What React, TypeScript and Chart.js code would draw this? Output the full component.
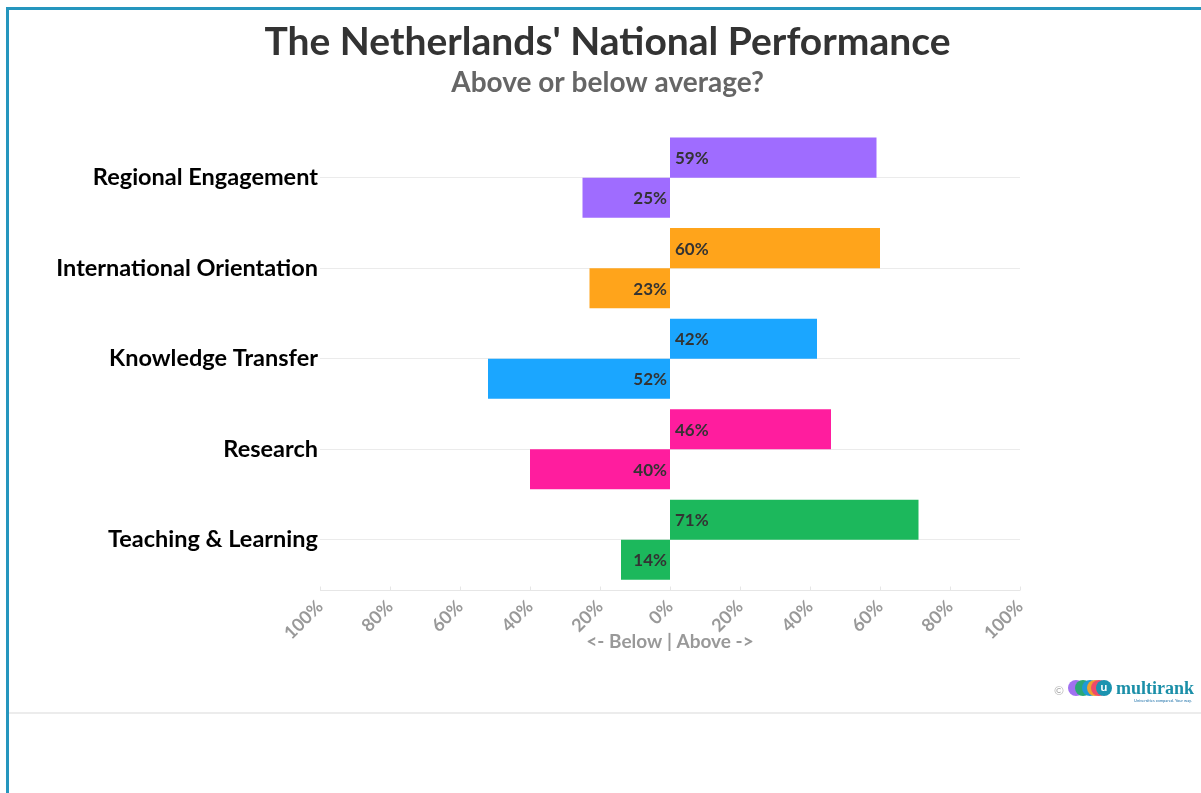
import React, { useEffect, useRef } from 'react';
import { Chart, registerables } from 'chart.js';

Chart.register(...registerables);

const categories = [
  'Regional Engagement',
  'International Orientation',
  'Knowledge Transfer',
  'Research',
  'Teaching & Learning',
];
const aboveValues = [59, 60, 42, 46, 71];
const belowValues = [25, 23, 52, 40, 14];
const categoryColors = ['#9f6cff', '#ffa41b', '#1ba6ff', '#ff1d9e', '#1cb85c'];
const xTickValues = [-100, -80, -60, -40, -20, 0, 20, 40, 60, 80, 100];

const FONT = 'Lato, "Open Sans", sans-serif';

const customPlugin = {
  id: 'customDecor',
  afterDatasetsDraw(chart: any) {
    const ctx = chart.ctx;
    chart.data.datasets.forEach((ds: any, di: number) => {
      const meta = chart.getDatasetMeta(di);
      meta.data.forEach((bar: any, i: number) => {
        const v = ds.data[i];
        ctx.save();
        ctx.font = `bold 17px ${FONT}`;
        ctx.fillStyle = '#333333';
        ctx.textBaseline = 'middle';
        if (v >= 0) {
          ctx.textAlign = 'left';
          ctx.fillText(`${Math.abs(v)}%`, bar.base + 5, bar.y + 1);
        } else {
          ctx.textAlign = 'right';
          ctx.fillText(`${Math.abs(v)}%`, bar.base - 3, bar.y + 1);
        }
        ctx.restore();
      });
    });
  },
  afterDraw(chart: any) {
    const ctx = chart.ctx;
    const xs = chart.scales.x;
    const ay = chart.chartArea.bottom + 5.5;
    ctx.save();
    ctx.strokeStyle = '#e6e6e6';
    ctx.lineWidth = 1;
    ctx.beginPath();
    ctx.moveTo(xs.left, ay);
    ctx.lineTo(xs.right, ay);
    xs.ticks.forEach((t: any) => {
      const px = Math.round(xs.getPixelForValue(t.value)) + 0.5;
      ctx.moveTo(px, ay);
      ctx.lineTo(px, ay - 4);
    });
    ctx.stroke();
    ctx.restore();

    // logo
    ctx.save();
    ctx.fillStyle = '#b0b0b0';
    ctx.font = `12px ${FONT}`;
    ctx.textBaseline = 'middle';
    ctx.fillText('©', 1054, 691);
    const circles = [
      [1076, '#a070f0'],
      [1083, '#2aa876'],
      [1090, '#1e9ad6'],
      [1095, '#f0a030'],
      [1099, '#ee4a6a'],
      [1104, '#1b93b0'],
    ];
    circles.forEach(([cx, col]: any) => {
      ctx.beginPath();
      ctx.fillStyle = col;
      ctx.arc(cx, 688, 8, 0, Math.PI * 2);
      ctx.fill();
    });
    ctx.fillStyle = '#ffffff';
    ctx.font = `bold 12px ${FONT}`;
    ctx.textAlign = 'center';
    ctx.fillText('u', 1104, 687);
    ctx.textAlign = 'left';
    ctx.fillStyle = '#1b8fa8';
    ctx.font = `bold 18px "Liberation Serif", serif`;
    ctx.textBaseline = 'alphabetic';
    ctx.fillText('multirank', 1116, 694);
    ctx.font = `4px ${FONT}`;
    ctx.fillStyle = '#1b6fa8';
    ctx.fillText('Universities compared. Your way.', 1134, 702);
    ctx.restore();
  },
};

export default function App() {
  const canvasRef = useRef<HTMLCanvasElement | null>(null);

  useEffect(() => {
    const canvas = canvasRef.current;
    if (!canvas) return;
    const chart = new Chart(canvas, {
      type: 'bar',
      data: {
        labels: categories,
        datasets: [
          {
            label: 'Above',
            data: aboveValues,
            backgroundColor: categoryColors,
            barPercentage: 1,
            categoryPercentage: 0.885,
          },
          {
            label: 'Below',
            data: belowValues.map((v) => -v),
            backgroundColor: categoryColors,
            barPercentage: 1,
            categoryPercentage: 0.885,
          },
        ],
      },
      options: {
        indexAxis: 'y',
        animation: false,
        responsive: false,
        layout: { padding: { left: 14, right: 0, top: 0, bottom: 140 } },
        plugins: {
          legend: { display: false },
          tooltip: { enabled: false },
          title: {
            display: true,
            text: "The Netherlands' National Performance",
            color: '#333333',
            font: { family: FONT, size: 39, weight: 'bold' },
            padding: { top: 19, bottom: 0 },
          },
          subtitle: {
            display: true,
            text: 'Above or below average?',
            color: '#666666',
            font: { family: FONT, size: 28, weight: 'bold' },
            padding: { top: 0, bottom: 33 },
          },
        },
        scales: {
          x: {
            type: 'linear',
            min: -100,
            max: 100,
            afterBuildTicks: (s: any) => {
              s.ticks = xTickValues.map((v) => ({ value: v }));
            },
            ticks: {
              autoSkip: false,
              minRotation: 45,
              maxRotation: 45,
              color: '#999999',
              font: { family: FONT, size: 18, weight: 'bold' },
              padding: 3,
              callback: (v: any) => `${Math.abs(Number(v))}%`,
            },
            grid: { display: false },
            border: { display: false },
            title: {
              display: true,
              text: '<- Below | Above ->',
              color: '#999999',
              font: { family: FONT, size: 19, weight: 'bold' },
              padding: { top: 0, bottom: 0 },
            },
            afterFit: (s: any) => {
              s.height = 68;
            },
          },
          y: {
            type: 'category',
            grid: { offset: false, color: '#ebebeb', drawTicks: false },
            border: { display: false },
            ticks: {
              color: '#000000',
              font: { family: FONT, size: 23.5, weight: 'bold' },
              padding: 2,
            },
            afterFit: (s: any) => {
              s.width = 306;
            },
          },
          yRight: {
            type: 'category',
            position: 'right',
            labels: categories,
            display: true,
            ticks: { display: false },
            grid: { display: false },
            border: { display: false },
            afterFit: (s: any) => {
              s.width = 181;
            },
          },
        },
      },
      plugins: [customPlugin],
    } as any);
    return () => chart.destroy();
  }, []);

  return (
    <div>
      <div
        style={{
          position: 'fixed',
          left: 6,
          top: 7,
          right: 0,
          bottom: 0,
          borderTop: '3px solid #2596be',
          borderLeft: '3px solid #2596be',
        }}
      />
      <div
        style={{
          position: 'fixed',
          left: 9,
          right: 0,
          top: 712,
          height: 2,
          background: '#ececec',
        }}
      />
      <canvas
        ref={canvasRef}
        width={1201}
        height={793}
        style={{ position: 'fixed', left: 0, top: 0, display: 'block' }}
      />
    </div>
  );
}
